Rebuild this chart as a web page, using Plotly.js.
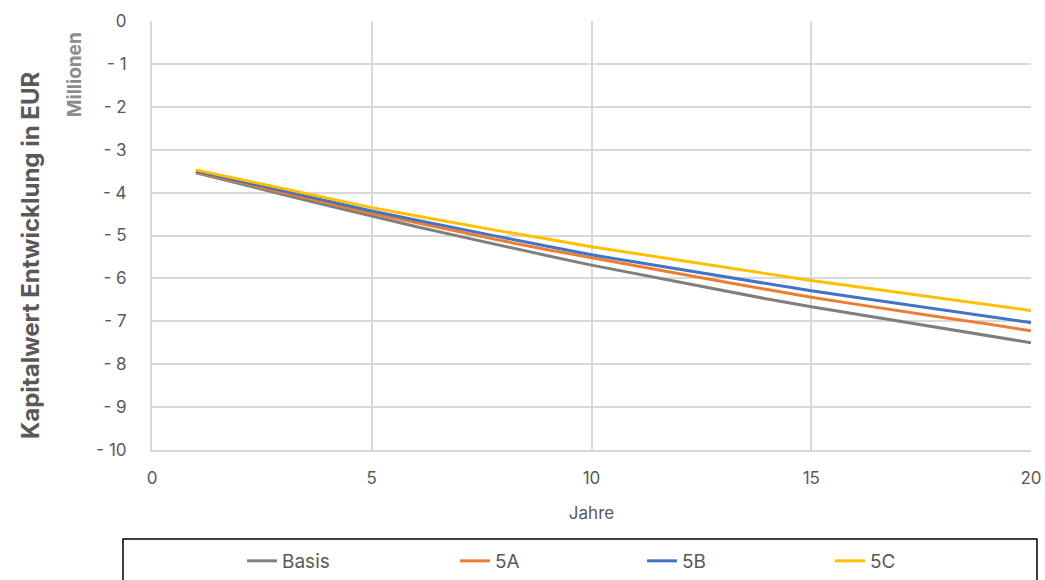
<!DOCTYPE html>
<html>
<head>
<meta charset="utf-8">
<script src="https://cdn.plot.ly/plotly-3.0.1.min.js"></script>
<style>html,body{margin:0;padding:0;background:#fff;}#chart{width:1045px;height:580px;}</style>
</head>
<body>
<div id="chart"></div>
<script>
const years = [1,2,3,4,5,6,7,8,9,10,11,12,13,14,15,16,17,18,19,20];
const seriesNames = ["Basis", "5A", "5B", "5C"];
const basis = [-3.54,-3.80,-4.05,-4.30,-4.55,-4.79,-5.02,-5.25,-5.47,-5.69,-5.89,-6.09,-6.29,-6.48,-6.66,-6.83,-7.00,-7.17,-7.34,-7.50];
const s5A = [-3.52,-3.76,-4.00,-4.24,-4.48,-4.70,-4.92,-5.13,-5.33,-5.52,-5.71,-5.90,-6.08,-6.26,-6.44,-6.60,-6.76,-6.91,-7.06,-7.22];
const s5B = [-3.50,-3.73,-3.96,-4.20,-4.43,-4.64,-4.85,-5.05,-5.25,-5.45,-5.62,-5.79,-5.96,-6.13,-6.29,-6.44,-6.59,-6.74,-6.89,-7.03];
const s5C = [-3.47,-3.69,-3.91,-4.13,-4.35,-4.54,-4.73,-4.91,-5.08,-5.26,-5.42,-5.58,-5.74,-5.90,-6.05,-6.19,-6.33,-6.47,-6.61,-6.75];
const yTickVals = [0,-1,-2,-3,-4,-5,-6,-7,-8,-9,-10];
const yTickText = ["0","- 1","- 2","- 3","- 4","- 5","- 6","- 7","- 8","- 9","- 10"];
const xTickVals = [0,5,10,15,20];
const colors = ["#7f7f7f","#ed7d31","#4472c4","#ffc000"];

const FONT = "Inter, 'Open Sans', 'Liberation Sans', sans-serif";
const allSeries = [basis, s5A, s5B, s5C];
const legendIds = ["legend", "legend2", "legend3", "legend4"];
const legendX = [0.1024, 0.3447, 0.5575, 0.7714];

const traces = allSeries.map((vals, i) => ({
  x: years, y: vals, name: seriesNames[i], type: "scatter", mode: "lines",
  line: {color: colors[i], width: 3}, legend: legendIds[i]
}));

const layout = {
  width: 1045, height: 580,
  margin: {l: 152, r: 14, t: 21, b: 130, autoexpand: false},
  paper_bgcolor: "#fff", plot_bgcolor: "#fff",
  font: {family: FONT, color: "#595959", size: 16},
  showlegend: true,
  xaxis: {
    range: [0, 20], tickvals: xTickVals, showgrid: true, gridcolor: "#d9d9d9", gridwidth: 2,
    zeroline: false, showline: true, linecolor: "#d9d9d9", linewidth: 2,
    ticks: "", tickfont: {size: 17, color: "#595959"}, ticklabelstandoff: 12,
    title: {text: "Jahre", font: {size: 17, color: "#595959"}, standoff: 20}
  },
  yaxis: {
    range: [-10, 0], tickvals: yTickVals, ticktext: yTickText, showgrid: true, gridcolor: "#d9d9d9", gridwidth: 2,
    zeroline: false, showline: true, linecolor: "#d9d9d9", linewidth: 2,
    ticks: "", tickfont: {size: 17, color: "#595959"}, ticklabelstandoff: 20,
    title: {text: ""}
  },
  annotations: [{
    text: "<b>Millionen</b>", xref: "paper", yref: "paper", x: -0.088, y: 0.979, xanchor: "center", yanchor: "top",
    textangle: -90, showarrow: false, font: {size: 19, color: "#8c8c8c"}
  }, {
    text: "<b>Kapitalwert Entwicklung in EUR</b>", xref: "paper", yref: "paper", x: -0.1388, y: 0.4545,
    xanchor: "center", yanchor: "middle", textangle: -90, showarrow: false, font: {size: 24, color: "#595959"}
  }],
  shapes: [{
    type: "rect", xref: "paper", yref: "paper", x0: -0.033, x1: 1.0068, y0: -0.31, y1: -0.2075,
    line: {color: "#000", width: 1.5}, fillcolor: "rgba(0,0,0,0)", layer: "above"
  }]
};
legendIds.forEach((id, i) => {
  layout[id] = {
    orientation: "h", x: legendX[i], xanchor: "left", y: -0.2587, yanchor: "middle",
    font: {size: 19, color: "#595959"}, bgcolor: "rgba(0,0,0,0)", borderwidth: 0
  };
});

Plotly.newPlot("chart", traces, layout, {displayModeBar: false, staticPlot: true});
</script>
</body>
</html>
